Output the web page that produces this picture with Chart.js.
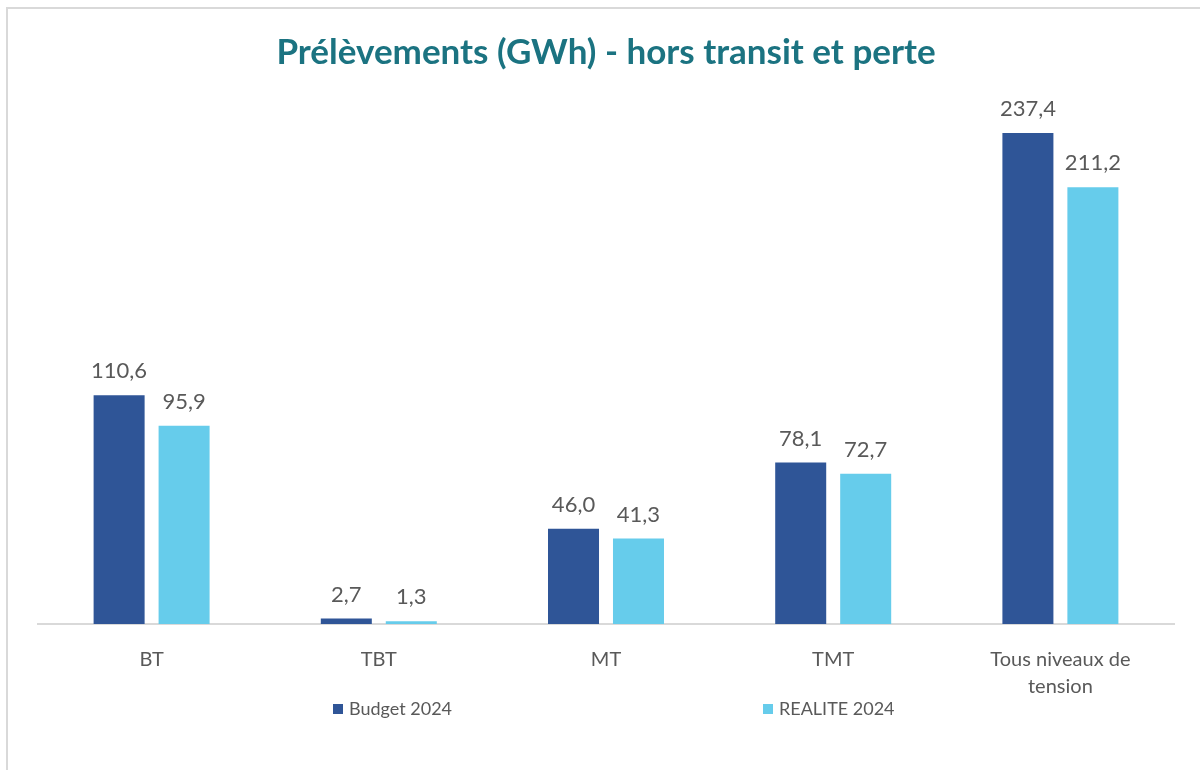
<!DOCTYPE html>
<html>
<head>
<meta charset="utf-8">
<script src="https://cdn.jsdelivr.net/npm/chart.js@4.4.1/dist/chart.umd.min.js"></script>
<style>
  html, body { margin: 0; padding: 0; background: #fff; }
  #wrap { position: relative; width: 1200px; height: 770px; overflow: hidden; }
  #frame { position: absolute; left: 6px; top: 7px; width: 1200px; height: 770px;
           border-left: 2px solid #d9d9d9; border-top: 2px solid #d9d9d9; pointer-events: none; }
  canvas { position: absolute; left: 0; top: 0; }
</style>
</head>
<body>
<div id="wrap">
  <canvas id="chartCanvas" width="1200" height="770"></canvas>
  <div id="frame"></div>
</div>
<script>
// ---------- data ----------
const categories = ["BT", "TBT", "MT", "TMT", ["Tous niveaux de", "tension"]];
const budget2024 = [110.6, 2.7, 46.0, 78.1, 237.4];
const realite2024 = [95.9, 1.3, 41.3, 72.7, 211.2];
const seriesNames = ["Budget 2024", "REALITE 2024"];
const seriesColors = ["#2F5597", "#66CCEB"];

const FONT = "Lato, 'Open Sans', sans-serif";
const GREY = "#595959";

// value formatting : french decimal comma
function fmt(v) {
  return v.toFixed(1).replace(".", ",");
}

// ---------- value labels above bars ----------
const valueLabels = {
  id: "valueLabels",
  afterDatasetsDraw(chart) {
    const ctx = chart.ctx;
    ctx.save();
    ctx.font = "22px " + FONT;
    ctx.fillStyle = GREY;
    ctx.textAlign = "center";
    ctx.textBaseline = "middle";
    chart.data.datasets.forEach((ds, i) => {
      chart.getDatasetMeta(i).data.forEach((bar, j) => {
        ctx.fillText(fmt(ds.data[j]), bar.x, bar.y - 24);
      });
    });
    ctx.restore();
  }
};

// ---------- legend (excel-like spread) ----------
const spreadLegend = {
  id: "spreadLegend",
  afterDraw(chart) {
    const ctx = chart.ctx;
    const xs = [333, 763];
    const y = 709;
    ctx.save();
    ctx.font = "18px " + FONT;
    ctx.textBaseline = "middle";
    ctx.textAlign = "left";
    chart.data.datasets.forEach((ds, i) => {
      ctx.fillStyle = ds.backgroundColor;
      ctx.fillRect(xs[i], y - 5, 10, 10);
      ctx.fillStyle = GREY;
      ctx.fillText(ds.label, xs[i] + 16, y);
    });
    ctx.restore();
  }
};

// ---------- chart ----------
new Chart(document.getElementById("chartCanvas"), {
  type: "bar",
  data: {
    labels: categories,
    datasets: [
      { label: seriesNames[0], data: budget2024, backgroundColor: seriesColors[0] },
      { label: seriesNames[1], data: realite2024, backgroundColor: seriesColors[1] }
    ]
  },
  options: {
    responsive: false,
    animation: false,
    devicePixelRatio: 1,
    categoryPercentage: 0.572,
    barPercentage: 0.785,
    layout: { padding: { left: 38, right: 26, top: 0, bottom: 48 } },
    plugins: {
      legend: { display: false },
      tooltip: { enabled: false },
      title: {
        display: true,
        text: "Prélèvements (GWh) - hors transit et perte",
        color: "#1B7381",
        font: { family: FONT, size: 35, weight: "bold" },
        padding: { top: 32, bottom: 33 }
      }
    },
    scales: {
      x: {
        grid: { display: false, drawTicks: false },
        border: { display: true, color: "#d9d9d9", width: 2 },
        ticks: {
          color: GREY,
          font: { family: FONT, size: 20, lineHeight: 1.35 },
          padding: 22,
          maxRotation: 0,
          autoSkip: false
        }
      },
      y: {
        display: false,
        min: 0,
        max: 250
      }
    }
  },
  plugins: [valueLabels, spreadLegend]
});
</script>
</body>
</html>
